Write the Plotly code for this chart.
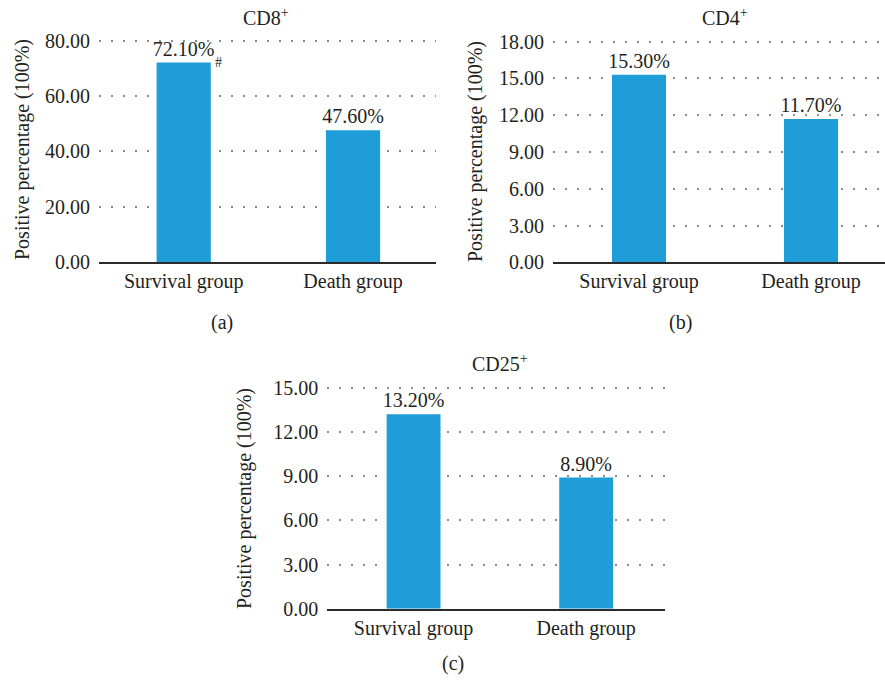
import plotly.graph_objects as go

# Data
groups = ["Survival group", "Death group"]
cd8_values = [72.10, 47.60]
cd4_values = [15.30, 11.70]
cd25_values = [13.20, 8.90]

titles = ["CD8<sup>+</sup>", "CD4<sup>+</sup>", "CD25<sup>+</sup>"]
panel_tags = ["(a)", "(b)", "(c)"]
y_ticks = [
    [0, 20, 40, 60, 80],
    [0, 3, 6, 9, 12, 15, 18],
    [0, 3, 6, 9, 12, 15],
]
y_title = "Positive percentage (100%)"

W, H = 885, 680
BAR_COLOR = "#1e9dd8"
TEXT_COLOR = "#231f20"
FONT = "Liberation Serif"
FS = 20
HEAD = 1.02  # headroom so the top gridline is drawn inside the plot area


def px_x(p):
    return p / W


def px_y(p):
    return 1 - p / H


# Panel boxes in pixels, x-range, bar width, and label positions
panels = [
    dict(values=cd8_values, x0=99, x1=436, ytop=40.7, ybot=262, xr=[-0.5, 1.49], bw=0.32,
         title_xy=(266, 17), ytitle_xy=(22, 150), tag_xy=(222, 322)),
    dict(values=cd4_values, x0=553, x1=885, ytop=41.7, ybot=262.3, xr=[-0.5, 1.43], bw=0.314,
         title_xy=(725, 17), ytitle_xy=(475, 152), tag_xy=(680, 322)),
    dict(values=cd25_values, x0=327.3, x1=665, ytop=387.7, ybot=608.7, xr=[-0.5, 1.457], bw=0.312,
         title_xy=(500, 363), ytitle_xy=(245, 499), tag_xy=(453, 663)),
]

fig = go.Figure()
annotations = []
axes = {}

for i, p in enumerate(panels):
    suffix = "" if i == 0 else str(i + 1)
    xa, ya = "x" + suffix, "y" + suffix
    fig.add_trace(go.Bar(
        x=groups, y=p["values"], xaxis=xa, yaxis=ya,
        marker=dict(color=BAR_COLOR, line=dict(width=0)),
        width=p["bw"],
        text=[f"{v:.2f}%" for v in p["values"]],
        textposition="outside", cliponaxis=False, constraintext="none",
        textfont=dict(family=FONT, size=FS, color=TEXT_COLOR),
        hoverinfo="skip",
    ))
    ticks = y_ticks[i]
    top_px = p["ybot"] - (p["ybot"] - p["ytop"]) * HEAD
    axes["xaxis" + suffix] = dict(
        domain=[px_x(p["x0"]), min(px_x(p["x1"]), 1.0)],
        anchor=ya, range=p["xr"], type="category",
        showgrid=False, showline=True, linecolor="#2b2b2b", linewidth=2,
        ticks="", automargin=False,
        tickfont=dict(family=FONT, size=FS, color=TEXT_COLOR),
        fixedrange=True,
    )
    axes["yaxis" + suffix] = dict(
        domain=[px_y(p["ybot"]), px_y(top_px)],
        anchor=xa, range=[0, ticks[-1] * HEAD],
        tickvals=ticks, ticktext=[f"{t:.2f}" for t in ticks],
        showgrid=True, gridcolor="#8a8a8a", gridwidth=1.5, griddash="1.5px,10.5px",
        zeroline=False, showline=False, ticks="", ticklabelstandoff=8,
        automargin=False,
        tickfont=dict(family=FONT, size=FS, color=TEXT_COLOR),
        fixedrange=True,
    )
    # Panel title
    annotations.append(dict(
        text=titles[i], xref="paper", yref="paper",
        x=px_x(p["title_xy"][0]), y=px_y(p["title_xy"][1]),
        xanchor="center", yanchor="middle", showarrow=False,
        font=dict(family=FONT, size=FS, color=TEXT_COLOR),
    ))
    # Vertical axis title
    annotations.append(dict(
        text=y_title, xref="paper", yref="paper", textangle=-90,
        x=px_x(p["ytitle_xy"][0]), y=px_y(p["ytitle_xy"][1]),
        xanchor="center", yanchor="middle", showarrow=False,
        font=dict(family=FONT, size=20, color=TEXT_COLOR),
    ))
    # Panel tag
    annotations.append(dict(
        text=panel_tags[i], xref="paper", yref="paper",
        x=px_x(p["tag_xy"][0]), y=px_y(p["tag_xy"][1]),
        xanchor="center", yanchor="middle", showarrow=False,
        font=dict(family=FONT, size=FS, color=TEXT_COLOR),
    ))

# Significance mark next to the CD8 survival bar
annotations.append(dict(
    text="#", xref="x", yref="y", x=0, y=cd8_values[0], xshift=35, yshift=0,
    xanchor="center", yanchor="middle", showarrow=False,
    font=dict(family=FONT, size=14, color=TEXT_COLOR),
))

fig.update_layout(
    template="none",
    width=W, height=H,
    margin=dict(l=0, r=0, t=0, b=0, pad=0),
    paper_bgcolor="white", plot_bgcolor="white",
    showlegend=False,
    font=dict(family=FONT, color=TEXT_COLOR, size=FS),
    annotations=annotations,
    **axes,
)
fig.write_html("out.html")
